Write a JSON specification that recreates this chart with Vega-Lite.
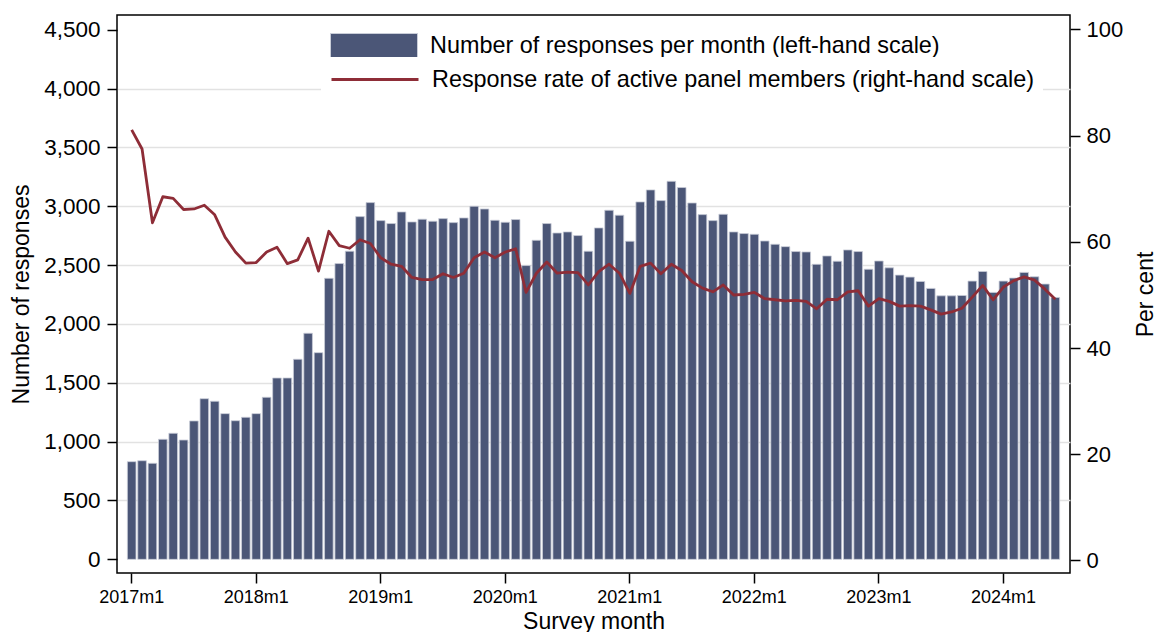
{
  "$schema": "https://vega.github.io/schema/vega-lite/v6.json",
  "width": 953,
  "height": 558,
  "autosize": {"type": "none"},
  "padding": {"left": 117, "top": 15, "right": 86, "bottom": 59},
  "background": "white",
  "data": {
    "values": [
      {"month": "2017m1", "responses": 830, "rate": 81.1},
      {"month": "2017m2", "responses": 838, "rate": 77.5},
      {"month": "2017m3", "responses": 816, "rate": 63.6},
      {"month": "2017m4", "responses": 1020, "rate": 68.5},
      {"month": "2017m5", "responses": 1071, "rate": 68.2},
      {"month": "2017m6", "responses": 1014, "rate": 66.1},
      {"month": "2017m7", "responses": 1176, "rate": 66.2},
      {"month": "2017m8", "responses": 1365, "rate": 66.9},
      {"month": "2017m9", "responses": 1343, "rate": 65.1},
      {"month": "2017m10", "responses": 1238, "rate": 60.9},
      {"month": "2017m11", "responses": 1178, "rate": 58.1},
      {"month": "2017m12", "responses": 1207, "rate": 56.0},
      {"month": "2018m1", "responses": 1238, "rate": 56.1},
      {"month": "2018m2", "responses": 1377, "rate": 58.1},
      {"month": "2018m3", "responses": 1541, "rate": 59.0},
      {"month": "2018m4", "responses": 1541, "rate": 55.9},
      {"month": "2018m5", "responses": 1700, "rate": 56.6},
      {"month": "2018m6", "responses": 1921, "rate": 60.7},
      {"month": "2018m7", "responses": 1756, "rate": 54.5},
      {"month": "2018m8", "responses": 2388, "rate": 62.0},
      {"month": "2018m9", "responses": 2513, "rate": 59.3},
      {"month": "2018m10", "responses": 2618, "rate": 58.8},
      {"month": "2018m11", "responses": 2912, "rate": 60.4},
      {"month": "2018m12", "responses": 3031, "rate": 59.7},
      {"month": "2019m1", "responses": 2878, "rate": 57.0},
      {"month": "2019m2", "responses": 2853, "rate": 55.8},
      {"month": "2019m3", "responses": 2952, "rate": 55.4},
      {"month": "2019m4", "responses": 2867, "rate": 53.3},
      {"month": "2019m5", "responses": 2890, "rate": 52.9},
      {"month": "2019m6", "responses": 2873, "rate": 52.9},
      {"month": "2019m7", "responses": 2895, "rate": 54.0},
      {"month": "2019m8", "responses": 2861, "rate": 53.3},
      {"month": "2019m9", "responses": 2901, "rate": 54.1},
      {"month": "2019m10", "responses": 3000, "rate": 57.0},
      {"month": "2019m11", "responses": 2977, "rate": 58.1},
      {"month": "2019m12", "responses": 2881, "rate": 57.0},
      {"month": "2020m1", "responses": 2864, "rate": 58.1},
      {"month": "2020m2", "responses": 2887, "rate": 58.7},
      {"month": "2020m3", "responses": 2496, "rate": 50.5},
      {"month": "2020m4", "responses": 2711, "rate": 54.1},
      {"month": "2020m5", "responses": 2853, "rate": 56.2},
      {"month": "2020m6", "responses": 2773, "rate": 54.1},
      {"month": "2020m7", "responses": 2782, "rate": 54.3},
      {"month": "2020m8", "responses": 2751, "rate": 54.2},
      {"month": "2020m9", "responses": 2618, "rate": 51.9},
      {"month": "2020m10", "responses": 2816, "rate": 54.4},
      {"month": "2020m11", "responses": 2966, "rate": 55.8},
      {"month": "2020m12", "responses": 2924, "rate": 54.1},
      {"month": "2021m1", "responses": 2703, "rate": 50.3},
      {"month": "2021m2", "responses": 3037, "rate": 55.4},
      {"month": "2021m3", "responses": 3139, "rate": 56.0},
      {"month": "2021m4", "responses": 3048, "rate": 54.0},
      {"month": "2021m5", "responses": 3212, "rate": 55.8},
      {"month": "2021m6", "responses": 3159, "rate": 54.6},
      {"month": "2021m7", "responses": 3028, "rate": 52.5},
      {"month": "2021m8", "responses": 2929, "rate": 51.3},
      {"month": "2021m9", "responses": 2878, "rate": 50.6},
      {"month": "2021m10", "responses": 2932, "rate": 51.9},
      {"month": "2021m11", "responses": 2782, "rate": 50.0},
      {"month": "2021m12", "responses": 2768, "rate": 50.1},
      {"month": "2022m1", "responses": 2762, "rate": 50.5},
      {"month": "2022m2", "responses": 2705, "rate": 49.3},
      {"month": "2022m3", "responses": 2677, "rate": 49.1},
      {"month": "2022m4", "responses": 2657, "rate": 48.9},
      {"month": "2022m5", "responses": 2615, "rate": 49.0},
      {"month": "2022m6", "responses": 2612, "rate": 48.8},
      {"month": "2022m7", "responses": 2507, "rate": 47.4},
      {"month": "2022m8", "responses": 2578, "rate": 49.2},
      {"month": "2022m9", "responses": 2533, "rate": 49.1},
      {"month": "2022m10", "responses": 2629, "rate": 50.6},
      {"month": "2022m11", "responses": 2615, "rate": 50.8},
      {"month": "2022m12", "responses": 2465, "rate": 47.9},
      {"month": "2023m1", "responses": 2535, "rate": 49.3},
      {"month": "2023m2", "responses": 2477, "rate": 48.8},
      {"month": "2023m3", "responses": 2415, "rate": 47.9},
      {"month": "2023m4", "responses": 2398, "rate": 48.0},
      {"month": "2023m5", "responses": 2361, "rate": 47.9},
      {"month": "2023m6", "responses": 2302, "rate": 47.2},
      {"month": "2023m7", "responses": 2239, "rate": 46.4},
      {"month": "2023m8", "responses": 2239, "rate": 46.8},
      {"month": "2023m9", "responses": 2242, "rate": 47.5},
      {"month": "2023m10", "responses": 2364, "rate": 49.6},
      {"month": "2023m11", "responses": 2446, "rate": 51.8},
      {"month": "2023m12", "responses": 2268, "rate": 49.1},
      {"month": "2024m1", "responses": 2364, "rate": 51.5},
      {"month": "2024m2", "responses": 2390, "rate": 52.7},
      {"month": "2024m3", "responses": 2438, "rate": 53.4},
      {"month": "2024m4", "responses": 2401, "rate": 52.8},
      {"month": "2024m5", "responses": 2339, "rate": 51.1},
      {"month": "2024m6", "responses": 2225, "rate": 49.2}
    ]
  },
  "encoding": {
    "x": {
      "field": "month",
      "type": "ordinal",
      "sort": null,
      "scale": {"type": "band", "paddingInner": 0.17, "paddingOuter": 1.38},
      "axis": {
        "values": ["2017m1", "2018m1", "2019m1", "2020m1", "2021m1", "2022m1", "2023m1", "2024m1"],
        "labelAngle": 0,
        "labelFontSize": 18,
        "labelPadding": 5,
        "tickSize": 10,
        "grid": false,
        "title": "Survey month",
        "titleY": 55,
        "titleBaseline": "alphabetic"
      }
    }
  },
  "layer": [
    {
      "mark": {"type": "bar", "stroke": "#c9cdd8", "strokeWidth": 0.8},
      "encoding": {
        "y": {
          "field": "responses",
          "type": "quantitative",
          "scale": {"domain": [-116, 4625], "nice": false, "zero": false},
          "axis": {
            "orient": "left",
            "values": [0, 500, 1000, 1500, 2000, 2500, 3000, 3500, 4000, 4500],
            "format": ",d",
            "grid": true,
            "gridColor": "#e2e2e2",
            "gridWidth": 1.5,
            "gridOpacity": {"condition": {"test": "datum.value === 0 || datum.value === 4500", "value": 0}, "value": 1},
            "tickSize": 10,
            "labelPadding": 7,
            "labelFontSize": 22.5,
            "title": "Number of responses",
            "titleAngle": 270,
            "titleX": -89,
            "titleY": 279,
            "titleBaseline": "alphabetic"
          }
        },
        "fill": {
          "datum": "Number of responses per month (left-hand scale)",
          "scale": {"range": ["#4b5677"]},
          "legend": {
            "orient": "none",
            "legendX": 213,
            "legendY": 18,
            "title": null,
            "padding": 0,
            "symbolType": "M-1,-1H6.25V1H-1Z",
            "symbolSize": 576,
            "symbolStrokeColor": "#c9cdd8",
            "symbolStrokeWidth": 1,
            "labelOffset": 75
          }
        }
      }
    },
    {
      "mark": {"type": "line", "strokeWidth": 2.8, "strokeJoin": "round"},
      "encoding": {
        "y": {
          "field": "rate",
          "type": "quantitative",
          "scale": {"domain": [-2.36, 102.73], "nice": false, "zero": false},
          "axis": {
            "orient": "right",
            "values": [0, 20, 40, 60, 80, 100],
            "grid": false,
            "tickSize": 10,
            "labelPadding": 6,
            "title": "Per cent",
            "titleAngle": 270,
            "titleX": 82,
            "titleY": 279,
            "titleBaseline": "alphabetic"
          }
        },
        "stroke": {
          "datum": "Response rate of active panel members (right-hand scale)",
          "scale": {"range": ["#8e2d37"]},
          "legend": {
            "orient": "none",
            "legendX": 204,
            "legendY": 42,
            "title": null,
            "padding": 9,
            "fillColor": "white",
            "symbolType": "M-1,0H6.25",
            "symbolSize": 576,
            "symbolStrokeWidth": 3,
            "labelOffset": 75
          }
        }
      }
    }
  ],
  "resolve": {"scale": {"y": "independent"}},
  "config": {
    "font": "Liberation Sans",
    "view": {"stroke": "#000000", "strokeWidth": 1.5},
    "axis": {
      "domain": false,
      "tickColor": "#000000",
      "tickWidth": 1.5,
      "labelColor": "#000000",
      "labelFont": "Liberation Sans",
      "labelFontSize": 22,
      "titleColor": "#000000",
      "titleFont": "Liberation Sans",
      "titleFontSize": 23,
      "titleFontWeight": "normal"
    },
    "legend": {
      "labelFont": "Liberation Sans",
      "labelFontSize": 23.4,
      "labelColor": "#000000",
      "labelLimit": 0
    }
  }
}
